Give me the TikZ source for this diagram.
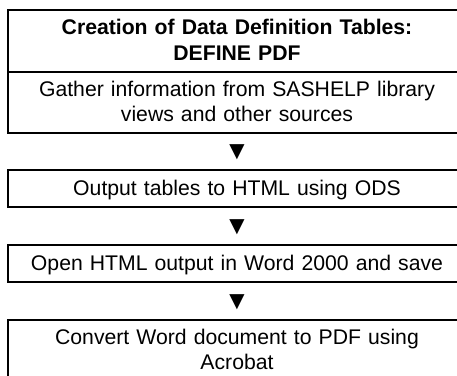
\documentclass[tikz,border=0pt]{standalone}
\usepackage{fontspec}
\setmainfont{Liberation Sans}
\usetikzlibrary{positioning, calc}

\newcommand{\rowstrut}{\rule[-6pt]{0pt}{25pt}}

\begin{document}
\begin{tikzpicture}[
    x=1pt, y=-1pt,
    node distance=38pt,
    cell/.style={rectangle, draw=black, line width=2pt, outer sep=0pt,
                 inner sep=0pt, minimum width=458pt, text width=440pt,
                 align=center, font=\fontsize{21.2}{25}\selectfont},
    headcell/.style={cell, minimum height=62pt,
                     font=\fontsize{21.2}{26}\selectfont\bfseries},
    twocell/.style={cell, minimum height=61pt},
    onecell/.style={cell, minimum height=37pt},
    tri/.style={inner sep=0pt, yshift=-1pt, font=\fontsize{26}{28}\selectfont}
  ]
    \useasboundingbox (0,0) rectangle (457,375);

    \node[headcell, anchor=north west] (head) at (8,10)
          {\rowstrut Creation of Data Definition Tables:\\DEFINE PDF\rowstrut};
    \node[twocell, below=0pt of head] (gather)
          {\rowstrut Gather information from SASHELP library\\views and other sources\rowstrut};
    \node[onecell, below=37pt of gather] (ods)
          {\rowstrut Output tables to HTML using ODS};
    \node[onecell, below=of ods] (word)
          {\rowstrut Open HTML output in Word 2000 and save};
    \node[twocell, below=of word] (pdf)
          {\rowstrut Convert Word document to PDF using\\Acrobat\rowstrut};

    % down markers between the steps
    \node[tri] (t1) at ($(gather.south)!0.5!(ods.north)$) {▼};
    \node[tri] (t2) at ($(ods.south)!0.5!(word.north)$) {▼};
    \node[tri] (t3) at ($(word.south)!0.5!(pdf.north)$) {▼};
\end{tikzpicture}
\end{document}
